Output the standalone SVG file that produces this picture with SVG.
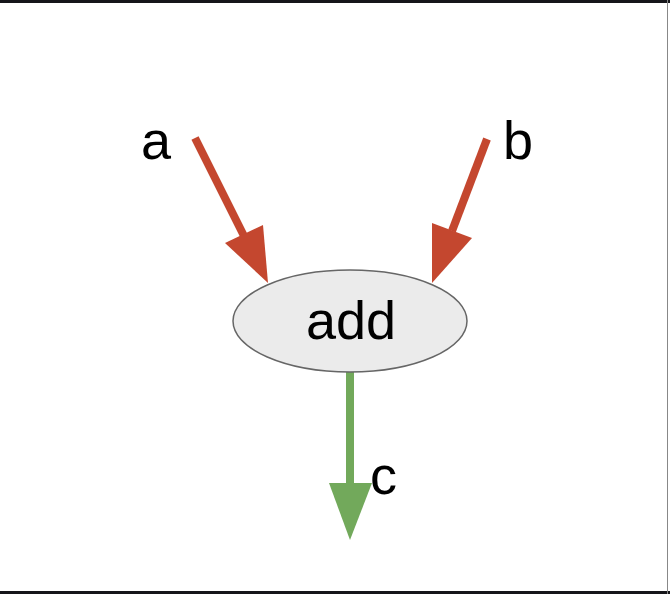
<svg xmlns="http://www.w3.org/2000/svg" width="670" height="594" viewBox="0 0 670 594">
<style>
.lbl{font-family:"Liberation Sans",Arial,sans-serif;font-size:54px;fill:#000}
.red{stroke:#c4472f;stroke-width:8;fill:none}
.redh{fill:#c4472f}
.grn{stroke:#72a95b;stroke-width:8;fill:none}
.grnh{fill:#72a95b}
</style>
<rect x="0" y="0" width="670" height="594" fill="#fff"/>
<rect x="0" y="0" width="670" height="3" fill="#16161a"/>
<rect x="0" y="591" width="670" height="3" fill="#16161a"/>
<line x1="667.5" y1="0" x2="667.5" y2="594" stroke="#888" stroke-width="1"/>
<g id="connectors">
<g id="edge-a">
<line class="red" x1="195" y1="138" x2="244" y2="236"/>
<polygon class="redh" points="225,243 263,225 268,283"/>
</g>
<g id="edge-b">
<line class="red" x1="487" y1="139" x2="452" y2="231"/>
<polygon class="redh" points="432,223 472,238 432,283"/>
</g>
<g id="edge-c">
<line class="grn" x1="350" y1="372" x2="350" y2="486"/>
<polygon class="grnh" points="329,483 372,483 350,540"/>
</g>
</g>
<g id="node-add">
<ellipse cx="350" cy="321" rx="117" ry="51" fill="#ebebeb" stroke="#666" stroke-width="1.5"/>
<text class="lbl" x="351" y="339" text-anchor="middle">add</text>
</g>
<g id="label-a"><text class="lbl" x="141" y="159">a</text></g>
<g id="label-b"><text class="lbl" x="503" y="159">b</text></g>
<g id="label-c"><text class="lbl" x="370" y="494">c</text></g>
</svg>
